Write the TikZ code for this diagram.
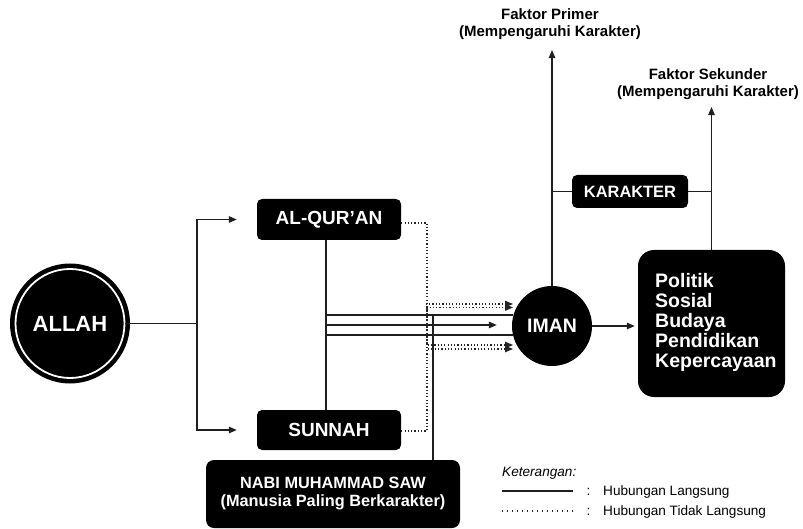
\documentclass[tikz,border=0pt]{standalone}
\usepackage{fontspec}
\setmainfont{Liberation Sans}
\usetikzlibrary{arrows.meta,calc}
\begin{document}
\begin{tikzpicture}[x=1bp,y=-1bp,
  blk/.style={fill=black, text=white, rounded corners=5bp, inner sep=0pt},
  conn/.style={line width=1.2bp, draw=black!88},
  arr/.style={conn, -{Triangle[length=8bp,width=6.5bp]}},
  dotl/.style={line width=1.3bp, draw=black!85, dash pattern=on 1.2bp off 2.1bp},
  dtip/.style={-{Triangle[length=8bp,width=6.5bp]}},
  lbl/.style={font=\fontsize{15bp}{17bp}\selectfont\bfseries, align=center},
  leg/.style={font=\fontsize{13.6bp}{15bp}\selectfont, inner sep=0pt, anchor=base west}
]
\useasboundingbox (0,0) rectangle (803,529);

% nodes
\node[circle, inner sep=0pt, minimum size=109bp,
      preaction={draw=black, line width=11bp},
      fill=black, draw=white, line width=1.8bp, text=white,
      font=\fontsize{22bp}{24bp}\selectfont\bfseries] (allah) at (70,323.5) {ALLAH};
\node[blk, minimum width=144bp, minimum height=41bp,
      font=\fontsize{19bp}{21bp}\selectfont\bfseries] (Q) at (329,219.5) {AL-QUR’AN};
\node[blk, minimum width=144bp, minimum height=40bp,
      font=\fontsize{19bp}{21bp}\selectfont\bfseries] (S) at (329,430) {SUNNAH};
\node[blk, rounded corners=8bp, minimum width=254bp, minimum height=68bp, align=center,
      font=\fontsize{16.3bp}{18bp}\selectfont\bfseries] (N) at (333,494) {NABI MUHAMMAD SAW\\(Manusia Paling Berkarakter)};
\node[circle, fill=black, inner sep=0pt, minimum size=80bp, text=white,
      font=\fontsize{19.5bp}{21bp}\selectfont\bfseries] (iman) at (552,326) {IMAN};
\node[blk, minimum width=116bp, minimum height=33bp,
      font=\fontsize{16.4bp}{18bp}\selectfont\bfseries] (K) at (630,191.5) {KARAKTER};
\node[blk, rounded corners=16bp, minimum width=147bp, minimum height=147bp] (P) at (711.5,323.5) {};
\node[anchor=west, inner sep=0pt, text=white, align=left,
      font=\fontsize{19.5bp}{20bp}\selectfont\bfseries] (Ptxt) at (655,322) {Politik\\Sosial\\Budaya\\Pendidikan\\Kepercayaan};
\node[lbl] (fp) at (550,24) {Faktor Primer\\(Mempengaruhi Karakter)};
\node[lbl] (fs) at (708,84) {Faktor Sekunder\\(Mempengaruhi Karakter)};

% Allah -> Quran / Sunnah
\coordinate (fork) at (197,323.5);
\draw[conn] (allah.east) -- (fork);
\draw[arr, shorten >=20bp] (fork) |- (Q.west);
\draw[arr, shorten >=20bp] (fork) |- (S.west);

% Quran - Sunnah trunk and direct lines to Iman
\draw[conn] ([xshift=-3bp]Q.south) -- ([xshift=-3bp]S.north);
\coordinate (j1) at (326,315);
\coordinate (j2) at (326,325);
\coordinate (j3) at (326,335);
\draw[conn] (j1) -- (j1 -| iman.164);
\draw[arr, shorten >=15bp] (j2) -- (j2 -| iman.west);
\draw[conn] (j3) -- (j3 -| iman.196);
\draw[conn] ([xshift=100bp]N.north) -- ([xshift=100bp]N.north |- j1);

% indirect (dotted) lines
\coordinate (d1) at (513,304);
\coordinate (d2) at (513,307.5);
\coordinate (d3) at (513,345);
\coordinate (d4) at (513,349);
\draw[dotl, dtip] ([yshift=-3.5bp]Q.east) -| (427,304) -- (d1);
\draw[dotl, dtip] ([yshift=-3.5bp]Q.east) -| (427,345) -- (d3);
\draw[dotl, dtip] ([yshift=-1bp]S.east) -| (427,307.5) -- (d2);
\draw[dotl, dtip] ([yshift=-1bp]S.east) -| (427,349) -- (d4);

% Iman -> P
\draw[arr, shorten >=3bp] (iman.east) -- (iman.east -| P.west);
% factors
\draw[arr, shorten >=7bp] (iman.north) -- (iman.north |- fp.south);
\draw[arr, shorten >=4bp] (P.north) -- (P.north |- fs.south);
\draw[conn] (K.west -| iman.north) -- (K.west);
\draw[conn] (K.east) -- (K.east -| P.north);

% legend
\node[leg, font=\fontsize{13.6bp}{15bp}\selectfont\itshape] (ket) at (502,476) {Keterangan:};
\coordinate (l1a) at (502,491);
\coordinate (l1b) at (573,491);
\coordinate (l2a) at (502,511);
\coordinate (l2b) at (573,511);
\draw[conn] (l1a) -- (l1b);
\draw[dotl, dash pattern=on 1.2bp off 3.8bp] (l2a) -- (l2b);
\node[leg] (c1) at (586.5,495) {:};
\node[leg] (t1) at (603,495) {Hubungan Langsung};
\node[leg] (c2) at (586.5,515) {:};
\node[leg] (t2) at (603,515) {Hubungan Tidak Langsung};
\end{tikzpicture}
\end{document}
